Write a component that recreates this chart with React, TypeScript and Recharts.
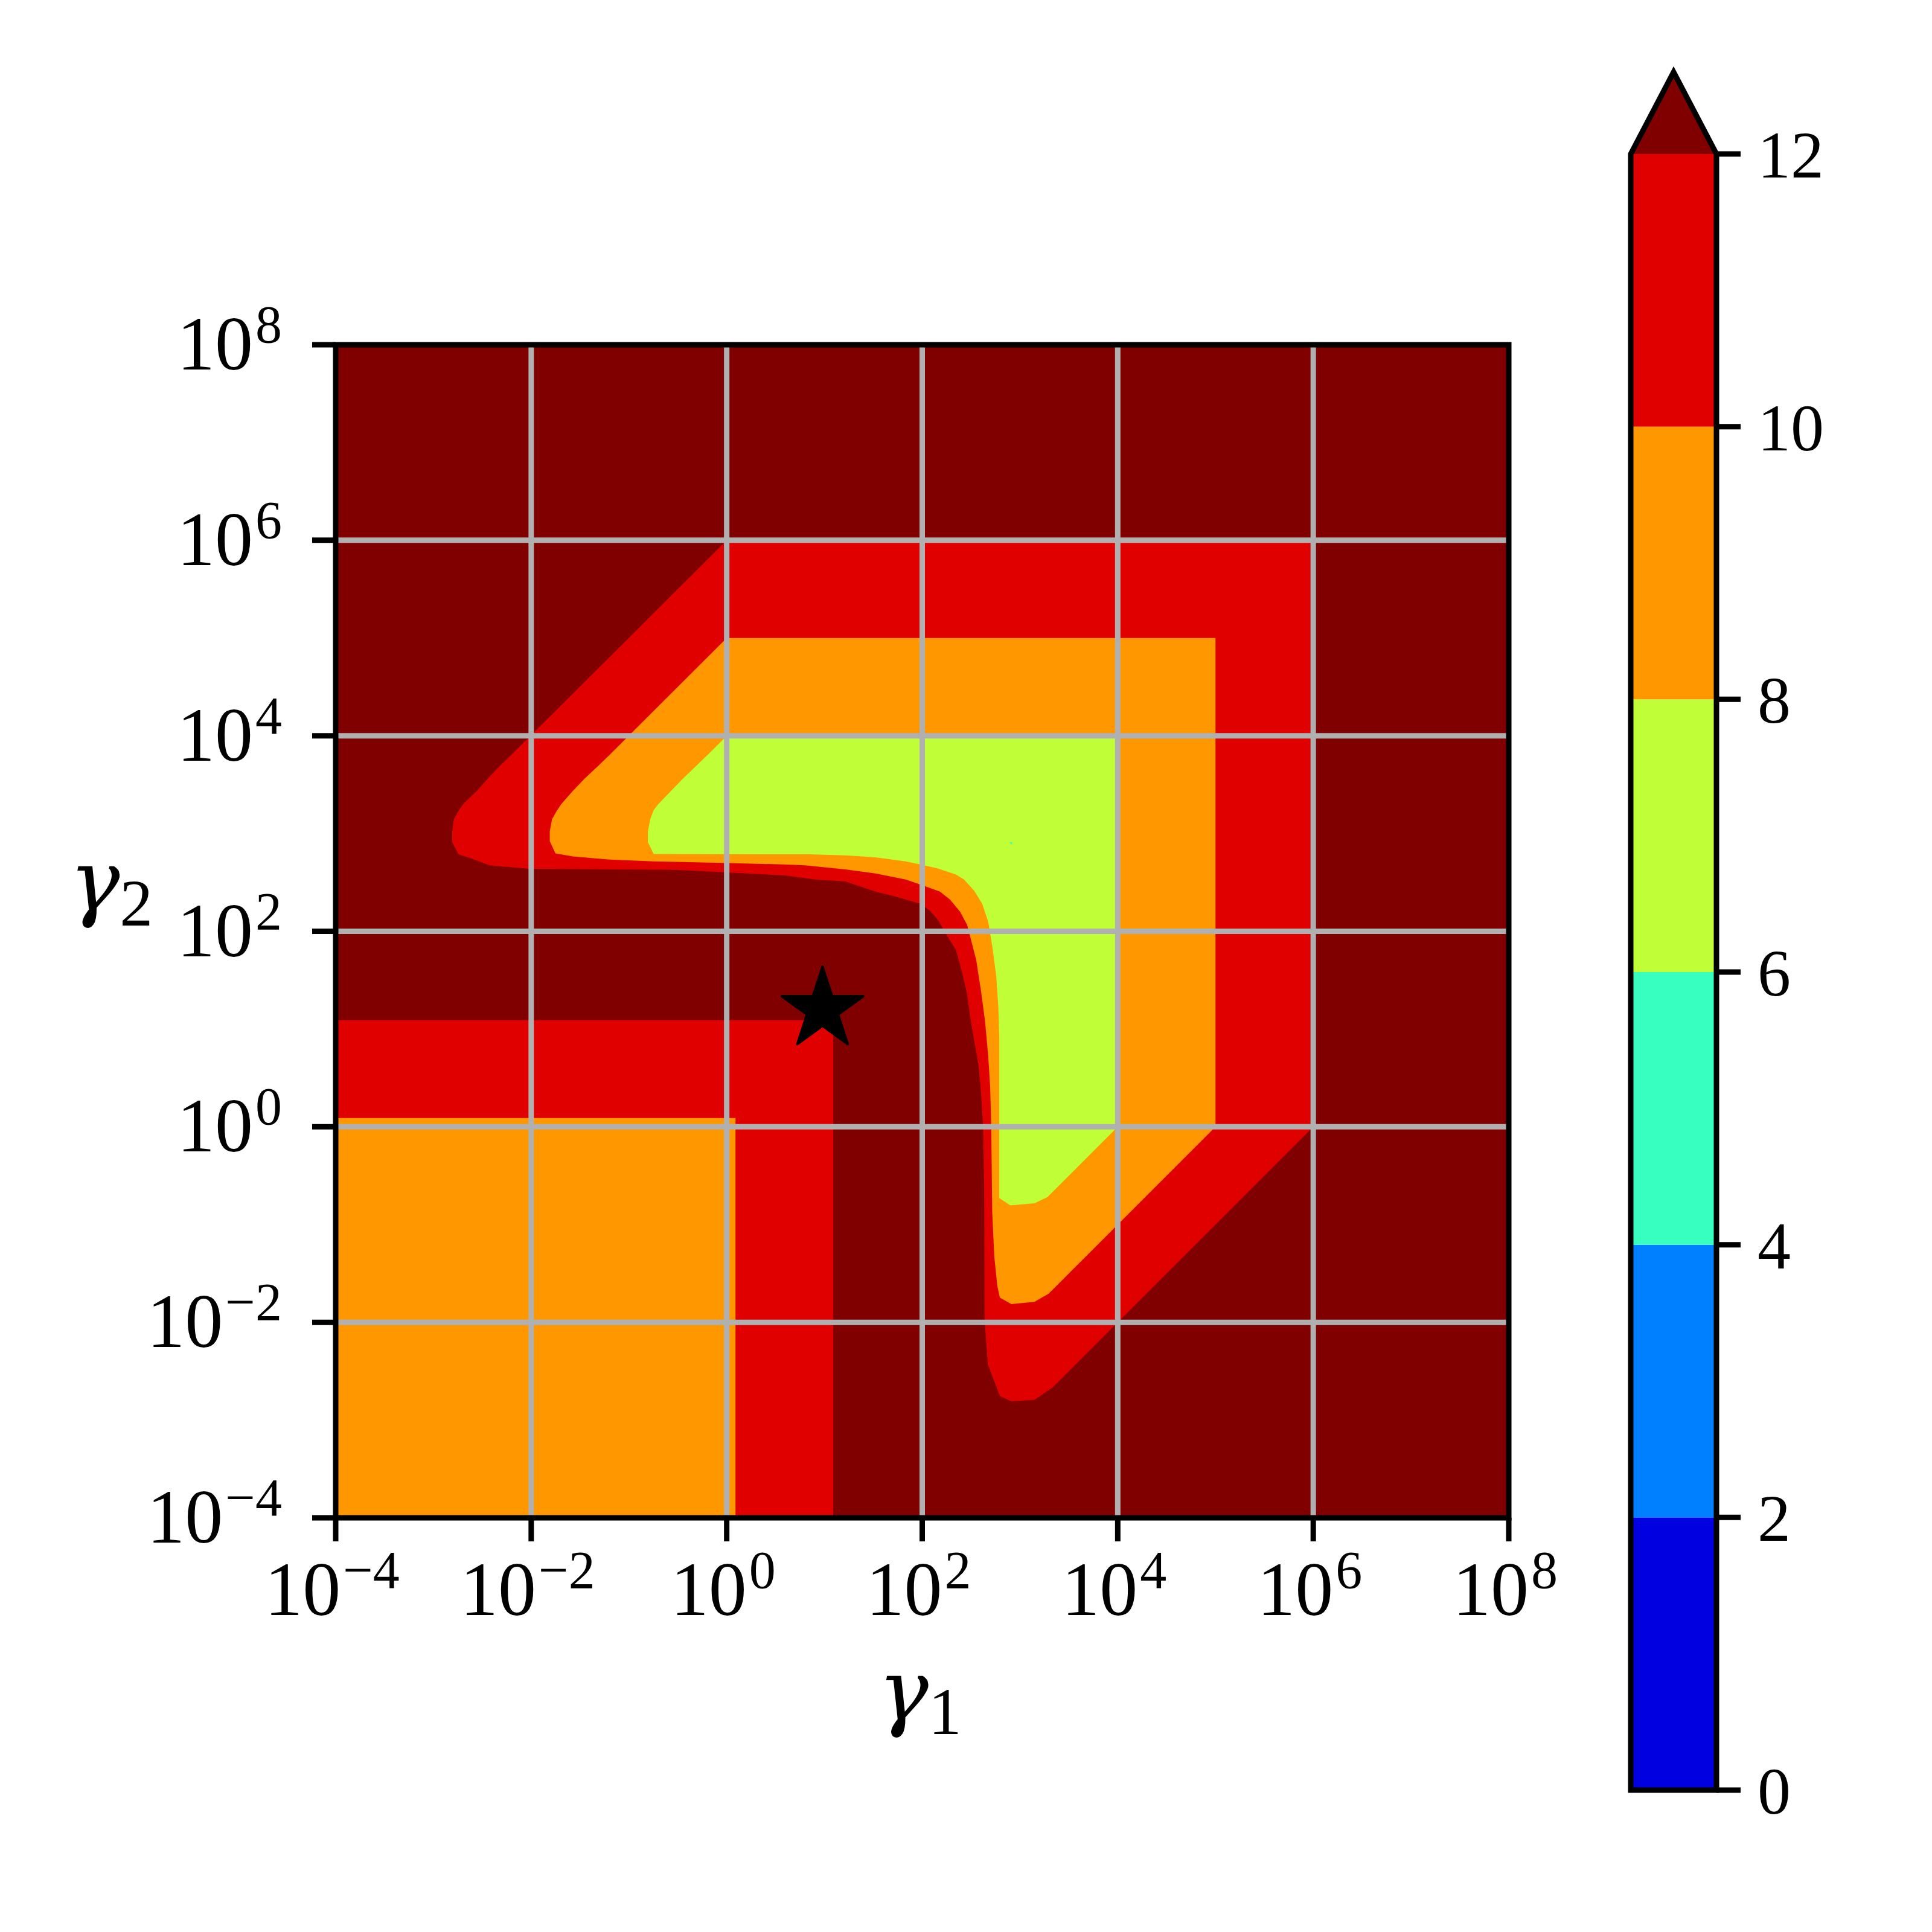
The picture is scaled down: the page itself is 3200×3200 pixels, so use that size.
import React from 'react';
import { ScatterChart, Scatter, XAxis, YAxis, BarChart, Bar } from 'recharts';

type Pt = [number, number];

// ---- colour levels (colorbar) ----
const LEVELS = [0, 2, 4, 6, 8, 10, 12];
const BAND_COLORS = ['#0000E0', '#0080FF', '#37FFC0', '#C0FF37', '#FF9700', '#E00000'];
const OVER_COLOR = '#800000';
const EXTEND_FRAC = 0.05;

// ---- axes (log10 of gamma) ----
const AXIS_TICKS = [-4, -2, 0, 2, 4, 6, 8];
const GRID_X = [-2, 0, 2, 4, 6];
const GRID_Y = [-2, 0, 2, 4, 6];

// ---- contour boundaries, in (log10 γ1, log10 γ2) ----
const domainBox: Pt[] = [[-4, -4], [8, -4], [8, 8], [-4, 8]];
const redSquare: Pt[] = [[-4, -4], [1.09, -4], [1.09, 1.09], [-4, 1.09]];
const orangeSquare: Pt[] = [[-4, -4], [0.09, -4], [0.09, 0.09], [-4, 0.09]];
const redBand: Pt[] = [
  [0, 6], [6, 6], [6, 0],
  [3.684, -2.316], [3.478, -2.522], [3.334, -2.666], [3.149, -2.793], [2.912, -2.808], [2.794, -2.754],
  [2.737, -2.602], [2.671, -2.429], [2.638, -1.974], [2.634, -0.675], [2.623, -0.003], [2.597, 0.409],
  [2.572, 0.656], [2.531, 0.883], [2.489, 1.13], [2.459, 1.356], [2.407, 1.583], [2.345, 1.809],
  [2.243, 1.973], [2.16, 2.118], [2.078, 2.211], [1.979, 2.282], [1.728, 2.355], [1.522, 2.406],
  [1.213, 2.509], [0.904, 2.529], [0.595, 2.571], [-0.51, 2.628], [-2.024, 2.639], [-2.425, 2.674],
  [-2.614, 2.746], [-2.744, 2.787], [-2.808, 2.911], [-2.808, 3.024], [-2.791, 3.147], [-2.733, 3.25],
  [-2.685, 3.312], [-2.555, 3.436], [-2.437, 3.57], [-2.319, 3.693], [-2.201, 3.806],
];
const orangeBand: Pt[] = [
  [0, 5], [5, 5], [5, 0],
  [3.684, -1.316], [3.457, -1.543], [3.293, -1.707], [3.149, -1.791], [2.912, -1.813], [2.794, -1.748],
  [2.768, -1.629], [2.737, -1.326], [2.716, -0.872], [2.706, -0.003], [2.695, 0.409], [2.675, 0.718],
  [2.644, 1.068], [2.603, 1.377], [2.552, 1.706], [2.51, 1.871], [2.459, 2.066], [2.387, 2.2],
  [2.284, 2.324], [2.181, 2.406], [1.979, 2.478], [1.831, 2.529], [1.522, 2.591], [1.213, 2.633],
  [0.801, 2.674], [0.577, 2.684], [-0.038, 2.699], [-0.747, 2.715], [-1.219, 2.735], [-1.574, 2.766],
  [-1.752, 2.797], [-1.81, 2.921], [-1.81, 3.024], [-1.787, 3.147], [-1.739, 3.23], [-1.692, 3.302],
  [-1.574, 3.436], [-1.456, 3.559], [-1.314, 3.693], [-1.196, 3.806],
];
const limeBand: Pt[] = [
  [0, 4], [4, 4], [4, 0],
  [3.684, -0.316], [3.283, -0.717], [3.149, -0.782], [2.901, -0.804], [2.788, -0.728], [2.788, 0.409],
  [2.788, 0.923], [2.778, 1.232], [2.757, 1.541], [2.716, 1.85], [2.675, 2.097], [2.613, 2.282],
  [2.531, 2.416], [2.428, 2.529], [2.345, 2.581], [2.16, 2.643], [1.979, 2.684], [1.831, 2.715],
  [1.522, 2.756], [1.213, 2.777], [0.842, 2.787], [-0.747, 2.791], [-0.806, 2.911], [-0.806, 3.024],
  [-0.782, 3.147], [-0.747, 3.24], [-0.699, 3.302], [-0.439, 3.57], [-0.193, 3.806],
];
const cyanSpot: Pt[] = [[2.893, 2.912], [2.921, 2.912], [2.917, 2.884]];

const starPoint = [{ x: 0.98, y: 1.2 }];

const FONT = '"Liberation Serif", "Times New Roman", serif';
const GREEK_FONT = '"DejaVu Serif", "Liberation Serif", serif';

// ---- tables built from the arrays above ----
const toData = (pts: Pt[]) => pts.map(([x, y]) => ({ x, y }));

const CONTOUR_LAYERS = [
  { name: 'over', pts: domainBox, color: OVER_COLOR },
  { name: 'redSq', pts: redSquare, color: BAND_COLORS[5] },
  { name: 'orangeSq', pts: orangeSquare, color: BAND_COLORS[4] },
  { name: 'redBand', pts: redBand, color: BAND_COLORS[5] },
  { name: 'orangeBand', pts: orangeBand, color: BAND_COLORS[4] },
  { name: 'limeBand', pts: limeBand, color: BAND_COLORS[3] },
  { name: 'cyanSpot', pts: cyanSpot, color: BAND_COLORS[2] },
];

const GRID_LINES = [
  ...GRID_X.map((v) => ({ name: `gx${v}`, data: [{ x: v, y: -4 }, { x: v, y: 8 }] })),
  ...GRID_Y.map((v) => ({ name: `gy${v}`, data: [{ x: -4, y: v }, { x: 8, y: v }] })),
];

const cbRow: Record<string, any> = { name: 'cb' };
LEVELS.slice(1).forEach((lv, i) => {
  cbRow[`s${i}`] = lv - LEVELS[i];
});
const cbData = [cbRow];

// ---- renderers ----
const NoMark = () => <g />;

const polygonLine = (fill: string, stroke?: string, strokeWidth?: number) => (props: any) => {
  const pts = (props.points || []).map((p: any) => `${p.x},${p.y}`).join(' ');
  return (
    <polygon
      points={pts}
      fill={fill}
      stroke={stroke || 'none'}
      strokeWidth={strokeWidth || 0}
      strokeLinejoin="miter"
    />
  );
};

const gridLine = (props: any) => {
  const pts = (props.points || []).map((p: any) => `${p.x},${p.y}`).join(' ');
  return <polyline points={pts} fill="none" stroke="#b0b0b0" strokeWidth={9} />;
};

const StarMark = (props: any) => {
  const { cx, cy } = props;
  const R = 71;
  const r = R * 0.381966;
  const pts: string[] = [];
  for (let k = 0; k < 10; k++) {
    const ang = (-90 + k * 36) * (Math.PI / 180);
    const rad = k % 2 === 0 ? R : r;
    pts.push(`${cx + rad * Math.cos(ang)},${cy + rad * Math.sin(ang)}`);
  }
  return <polygon points={pts.join(' ')} fill="#000" stroke="#000" strokeWidth={4} strokeLinejoin="round" />;
};

const expText = (v: number) => (v < 0 ? `\u2212${-v}` : `${v}`);

const XTick = (props: any) => {
  const { x, y, payload } = props;
  return (
    <text x={x - 6} y={y + 122} textAnchor="middle" fontFamily={FONT} fontSize={126} fill="#000">
      10
      <tspan dx={4} dy={-45} fontSize={88}>{expText(payload.value)}</tspan>
    </text>
  );
};

const YTick = (props: any) => {
  const { x, y, payload } = props;
  return (
    <text x={x} y={y + 41} textAnchor="end" fontFamily={FONT} fontSize={126} fill="#000">
      10
      <tspan dx={4} dy={-45} fontSize={88}>{expText(payload.value)}</tspan>
    </text>
  );
};

const XLabel = (props: any) => {
  const vb = props.viewBox || { x: 556, y: 2514, width: 1943, height: 300 };
  return (
    <text x={vb.x + vb.width / 2 - 4} y={vb.y + 335} textAnchor="middle" fontFamily={FONT} fontSize={155} fill="#000">
      <tspan fontStyle="italic" fontFamily={GREEK_FONT} fontSize={140}>γ</tspan>
      <tspan dy={23} fontSize={110}>1</tspan>
    </text>
  );
};

const YLabel = (props: any) => {
  const vb = props.viewBox || { x: 0, y: 571, width: 556, height: 1943 };
  return (
    <text x={vb.x + 184} y={vb.y + vb.height / 2 - 35} textAnchor="middle" fontFamily={FONT} fontSize={155} fill="#000">
      <tspan fontStyle="italic" fontFamily={GREEK_FONT} fontSize={140}>γ</tspan>
      <tspan dy={25} fontSize={110}>2</tspan>
    </text>
  );
};

const nSeg = LEVELS.length - 1;
const cbShape = (i: number) => (props: any) => {
  const { x, y, width, height } = props;
  const fill = BAND_COLORS[i];
  const parts: React.ReactNode[] = [
    <rect key="r" x={x} y={y} width={width} height={height} fill={fill} />,
  ];
  if (i === nSeg - 1) {
    const segVal = LEVELS[i + 1] - LEVELS[i];
    const total = (height * (LEVELS[nSeg] - LEVELS[0])) / segVal;
    const yb = y + total;
    const th = total * EXTEND_FRAC;
    const apexX = x + width / 2;
    parts.push(
      <polygon key="t" points={`${x},${y} ${apexX},${y - th} ${x + width},${y}`} fill={OVER_COLOR} />,
      <path
        key="o"
        d={`M${x},${yb} L${x},${y} L${apexX},${y - th} L${x + width},${y} L${x + width},${yb} Z`}
        fill="none"
        stroke="#000"
        strokeWidth={9}
        strokeLinejoin="miter"
        strokeMiterlimit={10}
      />,
    );
  }
  return <g>{parts}</g>;
};

export default function App() {
  return (
    <div style={{ position: 'absolute', left: 0, top: 0, width: 3200, height: 3200, background: '#fff' }}>
      <div style={{ position: 'absolute', left: 0, top: 0 }}>
        <ScatterChart width={2600} height={3200} margin={{ top: 571, right: 101, bottom: 386, left: 0 }}>
          <XAxis
            type="number"
            dataKey="x"
            domain={[-4, 8]}
            ticks={AXIS_TICKS}
            interval={0}
            height={300}
            tickSize={39}
            tickMargin={0}
            axisLine={false}
            tickLine={{ stroke: '#000', strokeWidth: 9 }}
            tick={XTick}
            label={{ content: XLabel }}
          />
          <YAxis
            type="number"
            dataKey="y"
            domain={[-4, 8]}
            ticks={AXIS_TICKS}
            interval={0}
            width={556}
            tickSize={39}
            tickMargin={50}
            axisLine={false}
            tickLine={{ stroke: '#000', strokeWidth: 9 }}
            tick={YTick}
            label={{ content: YLabel }}
          />
          {CONTOUR_LAYERS.map((layer) => (
            <Scatter
              key={layer.name}
              name={layer.name}
              data={toData(layer.pts)}
              line={polygonLine(layer.color)}
              shape={NoMark}
              isAnimationActive={false}
            />
          ))}
          {GRID_LINES.map((g) => (
            <Scatter key={g.name} name={g.name} data={g.data} line={gridLine} shape={NoMark} isAnimationActive={false} />
          ))}
          <Scatter name="star" data={starPoint} shape={StarMark} isAnimationActive={false} />
          <Scatter
            name="frame"
            data={toData(domainBox)}
            line={polygonLine('none', '#000', 9)}
            shape={NoMark}
            isAnimationActive={false}
          />
        </ScatterChart>
      </div>
      <div style={{ position: 'absolute', left: 2600, top: 0 }}>
        <BarChart
          width={600}
          height={3200}
          data={cbData}
          margin={{ top: 255, right: 57, bottom: 235, left: 101 }}
          barCategoryGap={0}
          barGap={0}
        >
          <XAxis dataKey="name" hide />
          <YAxis
            orientation="right"
            type="number"
            domain={[LEVELS[0], LEVELS[LEVELS.length - 1]]}
            ticks={LEVELS}
            interval={0}
            width={300}
            tickSize={40}
            tickMargin={28}
            axisLine={false}
            tickLine={{ stroke: '#000', strokeWidth: 9 }}
            tick={{ fontSize: 110, fill: '#000', fontFamily: FONT }}
          />
          {BAND_COLORS.map((c, i) => (
            <Bar key={i} dataKey={`s${i}`} stackId="cb" fill={c} shape={cbShape(i)} isAnimationActive={false} />
          ))}
        </BarChart>
      </div>
    </div>
  );
}
